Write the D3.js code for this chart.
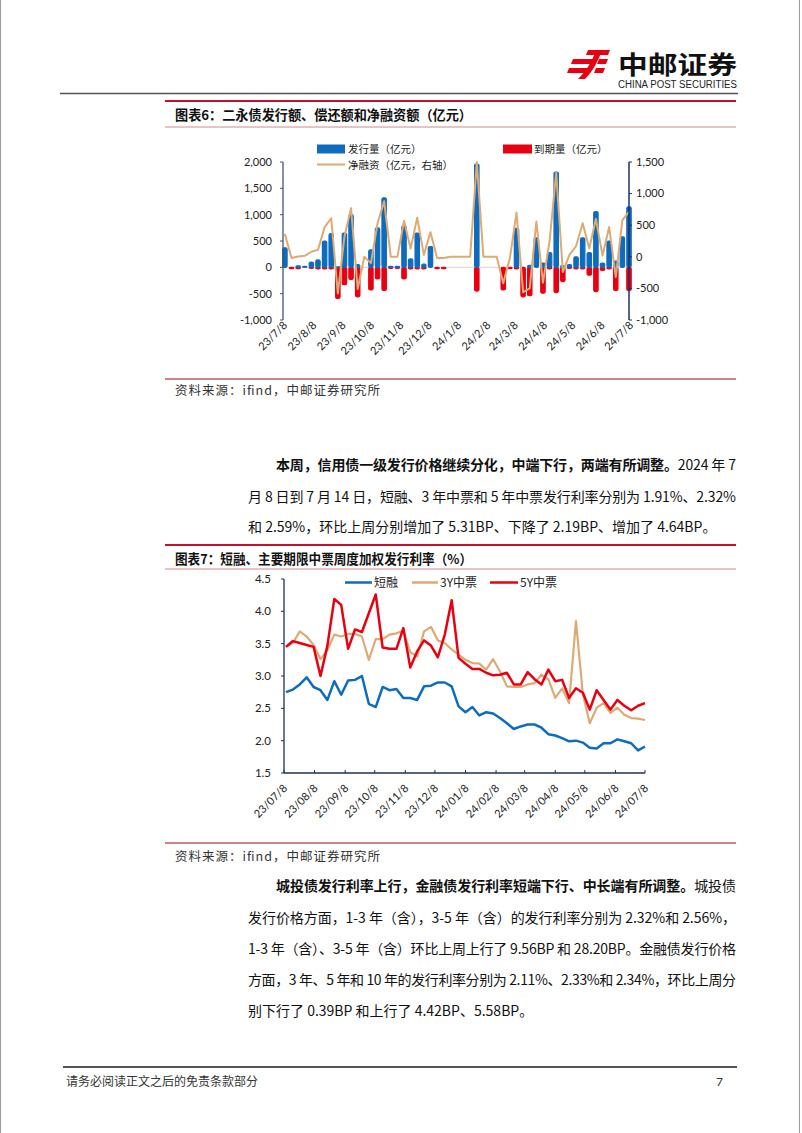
<!DOCTYPE html>
<html><head><meta charset="utf-8">
<script src="https://cdn.jsdelivr.net/npm/d3@7"></script>
<style>
html,body{margin:0;padding:0;background:#fff;}
svg{display:block;}
text{white-space:pre;}
</style></head><body>
<svg id="page" width="802" height="1133"></svg>
<script>
// ---------------- DATA ----------------
const weeks = ["2023-07-10","2023-07-17","2023-07-24","2023-07-31","2023-08-07","2023-08-14","2023-08-21","2023-08-28",
"2023-09-04","2023-09-11","2023-09-18","2023-09-25","2023-10-02","2023-10-09","2023-10-16","2023-10-23","2023-10-30",
"2023-11-06","2023-11-13","2023-11-20","2023-11-27","2023-12-04","2023-12-11","2023-12-18","2023-12-25",
"2024-01-01","2024-01-08","2024-01-15","2024-01-22","2024-01-29","2024-02-05","2024-02-12","2024-02-19","2024-02-26",
"2024-03-04","2024-03-11","2024-03-18","2024-03-25","2024-04-01","2024-04-08","2024-04-15","2024-04-22","2024-04-29",
"2024-05-06","2024-05-13","2024-05-20","2024-05-27","2024-06-03","2024-06-10","2024-06-17","2024-06-24","2024-07-01","2024-07-08"];

// Chart 6: perpetual/tier-2 bonds (亿元)
const issuance = [370,0,30,20,100,140,500,640,10,650,1000,50,0,330,750,1320,20,20,790,160,650,60,395,0,0,0,0,0,0,1960,0,0,0,0,0,740,0,40,560,80,280,1810,30,50,200,560,280,1060,80,500,120,580,1150];
const maturity = [0,-25,-25,0,-20,-30,-30,-30,-590,-330,-230,-560,0,-430,-220,-440,-20,-20,-220,-30,-30,-30,0,-25,-25,0,0,0,0,-450,0,0,0,-430,-25,-30,-560,-540,0,-490,-30,-480,-270,-20,-30,-30,-150,-460,-60,-30,-440,0,-440];
const netFinancing = [360,-20,5,15,80,110,470,610,-580,320,770,-510,0,-100,530,880,0,0,570,130,620,30,390,-20,-20,0,0,0,0,1500,0,0,0,-420,-20,700,-560,-500,560,-410,250,1330,-240,30,170,530,130,600,20,470,-320,580,710];
const leftTicks1 = [-1000,-500,0,500,1000,1500,2000];
const rightTicks1 = [-1000,-500,0,500,1000,1500];
const xTickLabels1 = ["23/7/8","23/8/8","23/9/8","23/10/8","23/11/8","23/12/8","24/1/8","24/2/8","24/3/8","24/4/8","24/5/8","24/6/8","24/7/8"];
const legend1 = ["发行量（亿元）","到期量（亿元）","净融资（亿元，右轴）"];

// Chart 7: weighted issuance rates (%)
const cpRate = [2.75,2.79,2.87,2.98,2.83,2.78,2.63,2.92,2.71,2.93,2.94,3.00,2.57,2.52,2.83,2.78,2.80,2.66,2.66,2.63,2.84,2.85,2.90,2.90,2.84,2.53,2.44,2.52,2.39,2.44,2.42,2.35,2.27,2.18,2.22,2.25,2.25,2.20,2.10,2.08,2.04,1.99,2.00,1.97,1.89,1.88,1.96,1.96,2.02,1.99,1.96,1.85,1.91];
const mtn3y = [3.45,3.51,3.69,3.61,3.48,3.26,3.40,3.64,3.61,3.65,3.65,3.61,3.25,3.57,3.57,3.64,3.66,3.70,3.37,3.30,3.69,3.76,3.55,3.51,3.41,3.33,3.25,3.20,3.19,3.10,3.26,3.07,2.84,2.83,2.83,2.87,2.89,3.02,2.95,2.66,2.81,2.58,3.85,2.72,2.27,2.51,2.58,2.43,2.51,2.40,2.35,2.34,2.32];
const mtn5y = [3.45,3.54,3.51,3.48,3.45,3.00,3.47,4.19,4.10,3.42,3.72,3.68,3.97,4.26,3.44,3.42,3.42,3.74,3.13,3.38,3.55,3.47,3.29,3.64,4.17,3.28,3.19,3.11,3.11,3.05,3.01,3.02,3.05,2.87,2.87,3.06,2.95,2.87,3.10,2.92,2.94,2.66,2.81,2.74,2.48,2.78,2.63,2.48,2.63,2.54,2.47,2.54,2.58];
const yTicks2 = [1.5,2.0,2.5,3.0,3.5,4.0,4.5];
const xTickLabels2 = ["23/07/8","23/08/8","23/09/8","23/10/8","23/11/8","23/12/8","24/01/8","24/02/8","24/03/8","24/04/8","24/05/8","24/06/8","24/07/8"];
const seriesNames2 = ["短融","3Y中票","5Y中票"];

// ---------------- DRAW ----------------
const svg = d3.select("#page");
const CJK = "'Noto Sans CJK SC', 'Noto Sans', sans-serif";
const LAT = "Lato, 'Liberation Sans', sans-serif";
const parseDay = d3.timeParse("%Y-%m-%d");
const parseTick = d3.timeParse("%y/%m/%d");
const dates = weeks.map(parseDay);
const domainX = [parseDay("2023-07-08"), parseDay("2024-07-08")];
const BLUE = "#0F6CBD", RED = "#E60012", TAN = "#DDAA74";

// page border
svg.append("line").attr("x1",0.5).attr("x2",0.5).attr("y1",0).attr("y2",1133).attr("stroke","#9a9a9a");
svg.append("line").attr("x1",799.5).attr("x2",799.5).attr("y1",0).attr("y2",1133).attr("stroke","#9a9a9a");

// header logo
const logo = svg.append("g").attr("fill",RED);
[[[588,50],[610,50],[608,55],[586,55]],
 [[573,59],[595,59],[593,64],[571,64]],
 [[599,59],[608,59],[606,64],[597,64]],
 [[569,68],[591,68],[589,73],[567,73]],
 [[596,68],[605,68],[603,73],[594,73]]].forEach(p=>logo.append("polygon").attr("points",p.map(d=>d.join(",")).join(" ")));
logo.append("path").attr("d","M596,50 L602,50 C598,62 592,72 585,79 L578,79 C586,71 592,62 596,50 Z");
svg.append("text").attr("x",618).attr("y",74).attr("font-family",CJK).attr("font-weight",700)
  .attr("font-size",25).attr("textLength",119).attr("lengthAdjust","spacingAndGlyphs").attr("fill","#111").text("中邮证券");
svg.append("text").attr("x",618).attr("y",88).attr("font-family","'Liberation Sans', Arial, sans-serif")
  .attr("font-size",10).attr("textLength",119).attr("lengthAdjust","spacingAndGlyphs").attr("fill","#222").text("CHINA POST SECURITIES");
svg.append("line").attr("x1",60).attr("x2",738).attr("y1",93.5).attr("y2",93.5).attr("stroke","#555").attr("stroke-width",1.5);

// chart frame helper
function frame(topY, title, subY, bottomY, srcY){
  svg.append("line").attr("x1",165).attr("x2",736).attr("y1",topY).attr("y2",topY).attr("stroke","#C8102E").attr("stroke-width",2);
  svg.append("text").attr("x",175).attr("y",topY+19).attr("font-family",CJK).attr("font-weight",700)
    .attr("font-size",13.5).attr("textLength",297).attr("lengthAdjust","spacingAndGlyphs").attr("fill","#111").text(title);
  svg.append("line").attr("x1",165).attr("x2",736).attr("y1",subY).attr("y2",subY).attr("stroke","#D4868D").attr("stroke-width",1);
  svg.append("line").attr("x1",165).attr("x2",736).attr("y1",bottomY).attr("y2",bottomY).attr("stroke","#C25560").attr("stroke-width",1.3);
  svg.append("text").attr("x",175).attr("y",srcY).attr("font-family",CJK).attr("font-size",12.5)
    .attr("textLength",205).attr("lengthAdjust","spacing").attr("fill","#333").text("资料来源：ifind，中邮证券研究所");
}
frame(101, "图表6：二永债发行额、偿还额和净融资额（亿元）", 127, 379, 395);
frame(545, "图表7：短融、主要期限中票周度加权发行利率（%）", 569, 843, 861);

// ---------- Chart 6 ----------
const x1 = d3.scaleTime().domain(domainX).range([283, 629]);
const yL = d3.scaleLinear().domain([-1000, 2000]).range([320, 162]);
const yR = d3.scaleLinear().domain([-1000, 1500]).range([320, 162]);
const fmt1 = v => d3.format(",")(v).replace("−","-");
const g1 = svg.append("g");
g1.append("line").attr("x1",283).attr("x2",629).attr("y1",yL(0)).attr("y2",yL(0)).attr("stroke","#E3CFCF").attr("stroke-width",1);
const bw = 4.4;
g1.selectAll(".red").data(maturity).join("rect")
  .attr("x",(d,i)=>x1(dates[i])-bw/2).attr("y",d=>yL(0)).attr("width",bw).attr("height",d=>yL(d)-yL(0))
  .attr("fill",RED).attr("stroke",RED).attr("stroke-width",d=>d===0?0:1.2).attr("rx",1.5);
g1.selectAll(".blue").data(issuance).join("rect")
  .attr("x",(d,i)=>x1(dates[i])-bw/2).attr("y",d=>yL(d)).attr("width",bw).attr("height",d=>yL(0)-yL(d))
  .attr("fill",BLUE).attr("stroke",BLUE).attr("stroke-width",d=>d===0?0:1.2).attr("rx",1.5);
g1.append("path").datum(netFinancing)
  .attr("d", d3.line().x((d,i)=>x1(dates[i])).y(d=>yR(d)))
  .attr("fill","none").attr("stroke",TAN).attr("stroke-width",2).attr("stroke-linejoin","round");
// left axis
g1.append("line").attr("x1",283).attr("x2",283).attr("y1",162).attr("y2",320).attr("stroke","#44546A").attr("stroke-width",1.3);
leftTicks1.forEach(t=>{
  g1.append("line").attr("x1",280).attr("x2",283).attr("y1",yL(t)).attr("y2",yL(t)).attr("stroke","#44546A");
  g1.append("text").attr("x",272).attr("y",yL(t)).attr("dy","0.35em").attr("text-anchor","end")
    .attr("font-family",LAT).attr("font-size",11).attr("fill","#222").text(fmt1(t));
});
// right axis
g1.append("line").attr("x1",629).attr("x2",629).attr("y1",162).attr("y2",320).attr("stroke","#1F2F66").attr("stroke-width",1.5);
rightTicks1.forEach(t=>{
  g1.append("line").attr("x1",629).attr("x2",632).attr("y1",yR(t)).attr("y2",yR(t)).attr("stroke","#1F2F66");
  g1.append("text").attr("x",636).attr("y",yR(t)).attr("dy","0.35em").attr("text-anchor","start")
    .attr("font-family",LAT).attr("font-size",11).attr("fill","#222").text(fmt1(t));
});
// x labels
xTickLabels1.forEach(l=>{
  const xx = x1(parseTick(l));
  g1.append("text").attr("transform",`translate(${xx+5},326) rotate(-45)`).attr("text-anchor","end")
    .attr("font-family",LAT).attr("font-size",11).attr("fill","#222").text(l);
});
// legend
g1.append("rect").attr("x",317).attr("y",144.5).attr("width",28).attr("height",9).attr("fill",BLUE);
g1.append("text").attr("x",348).attr("y",153).attr("font-family",CJK).attr("font-size",10.5).attr("fill","#222").text(legend1[0]);
g1.append("rect").attr("x",503).attr("y",144.5).attr("width",29).attr("height",9).attr("fill",RED);
g1.append("text").attr("x",534).attr("y",153).attr("font-family",CJK).attr("font-size",10.5).attr("fill","#222").text(legend1[1]);
g1.append("line").attr("x1",317).attr("x2",345).attr("y1",164.5).attr("y2",164.5).attr("stroke",TAN).attr("stroke-width",2);
g1.append("text").attr("x",348).attr("y",168.5).attr("font-family",CJK).attr("font-size",10.5).attr("fill","#222").text(legend1[2]);

// ---------- Chart 7 ----------
const x2 = d3.scaleTime().domain(domainX).range([284, 645]);
const y2 = d3.scaleLinear().domain([1.5, 4.5]).range([773, 579]);
const g2 = svg.append("g");
const series2 = [[cpRate,BLUE,2.5],[mtn3y,TAN,2.2],[mtn5y,RED,2.5]];
series2.forEach(([arr,col,w])=>{
  g2.append("path").datum(arr).attr("d", d3.line().x((d,i)=>x2(dates[i])).y(d=>y2(d)))
    .attr("fill","none").attr("stroke",col).attr("stroke-width",w).attr("stroke-linejoin","round");
});
g2.append("line").attr("x1",284).attr("x2",284).attr("y1",579).attr("y2",773).attr("stroke","#1F2F55").attr("stroke-width",1.3);
g2.append("line").attr("x1",284).attr("x2",645).attr("y1",773).attr("y2",773).attr("stroke","#1F2F55").attr("stroke-width",1.3);
yTicks2.forEach(t=>{
  g2.append("line").attr("x1",281).attr("x2",284).attr("y1",y2(t)).attr("y2",y2(t)).attr("stroke","#1F2F55");
  g2.append("text").attr("x",271).attr("y",y2(t)).attr("dy","0.35em").attr("text-anchor","end")
    .attr("font-family",LAT).attr("font-size",11.5).attr("fill","#222").text(d3.format(".1f")(t));
});
xTickLabels2.forEach(l=>{
  const xx = x2(parseTick(l));
  g2.append("line").attr("x1",xx).attr("x2",xx).attr("y1",770).attr("y2",773).attr("stroke","#1F2F55");
  g2.append("text").attr("transform",`translate(${xx+4},789) rotate(-45)`).attr("text-anchor","end")
    .attr("font-family",LAT).attr("font-size",11).attr("fill","#222").text(l);
});
const leg2 = [[345,372,374],[412,438,440],[490,518,520]];
leg2.forEach((p,i)=>{
  g2.append("line").attr("x1",p[0]).attr("x2",p[1]).attr("y1",582.5).attr("y2",582.5).attr("stroke",series2[i][1]).attr("stroke-width",2.5);
  g2.append("text").attr("x",p[2]).attr("y",587).attr("font-family",CJK).attr("font-size",12).attr("fill","#222").text(seriesNames2[i]);
});

// ---------- Body text ----------
function textLine(x, y, parts, width){
  const t = svg.append("text").attr("x",x).attr("y",y).attr("font-family",CJK).attr("font-size",14).attr("fill","#111");
  parts.forEach(p=>t.append("tspan").attr("font-weight",p[1]?700:400).text(p[0]));
  if (width) t.attr("textLength",width).attr("lengthAdjust","spacing");
}
const L0 = 248, L1 = 276, R = 736;
textLine(L1, 470, [["本周，信用债一级发行价格继续分化，中端下行，两端有所调整。",1],["2024 年 7",0]], R-L1);
textLine(L0, 502, [["月 8 日到 7 月 14 日，短融、3 年中票和 5 年中票发行利率分别为 1.91%、2.32%",0]], R-L0);
textLine(L0, 532, [["和 2.59%，环比上周分别增加了 5.31BP、下降了 2.19BP、增加了 4.64BP。",0]], null);

textLine(L1, 891, [["城投债发行利率上行，金融债发行利率短端下行、中长端有所调整。",1],["城投债",0]], R-L1);
textLine(L0, 923, [["发行价格方面，1-3 年（含），3-5 年（含）的发行利率分别为 2.32%和 2.56%，",0]], R-L0);
textLine(L0, 954, [["1-3 年（含）、3-5 年（含）环比上周上行了 9.56BP 和 28.20BP。金融债发行价格",0]], R-L0);
textLine(L0, 985, [["方面，3 年、5 年和 10 年的发行利率分别为 2.11%、2.33%和 2.34%，环比上周分",0]], R-L0);
textLine(L0, 1016, [["别下行了 0.39BP 和上行了 4.42BP、5.58BP。",0]], null);

// ---------- Footer ----------
svg.append("line").attr("x1",63).attr("x2",737).attr("y1",1067).attr("y2",1067).attr("stroke","#555").attr("stroke-width",2);
svg.append("text").attr("x",66).attr("y",1086).attr("font-family",CJK).attr("font-size",12).attr("fill","#333").text("请务必阅读正文之后的免责条款部分");
svg.append("text").attr("x",716).attr("y",1086).attr("font-family",LAT).attr("font-size",12).attr("fill","#333").text("7");
</script>
</body></html>
